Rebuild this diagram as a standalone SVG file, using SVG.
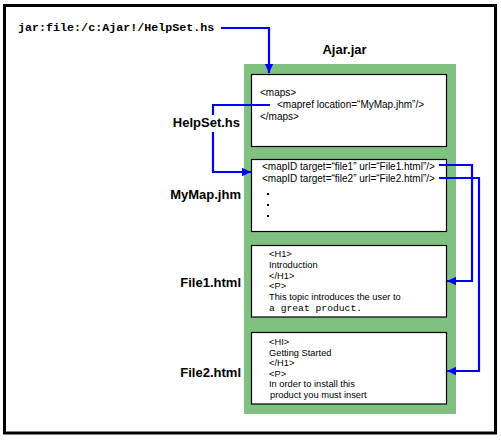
<svg xmlns="http://www.w3.org/2000/svg" width="501" height="440" viewBox="0 0 501 440">
<style>
.box{fill:#fff;stroke:#000;stroke-width:1.2}
.lbl{font-family:"Liberation Sans",Arial,sans-serif;font-weight:bold;font-size:13px;fill:#000}
.code{font-family:"Liberation Sans",Arial,sans-serif;font-size:10px;fill:#000}
.html{font-family:"Liberation Sans",Arial,sans-serif;font-size:9.3px;fill:#000}
.mono{font-family:"Liberation Mono","Courier New",monospace;font-size:9.7px;fill:#000}
.conn{fill:none;stroke:#0000ff;stroke-width:2.2}
</style>
<defs>
<marker id="ah" markerUnits="userSpaceOnUse" markerWidth="9" markerHeight="9" viewBox="0 0 8 8" refX="8" refY="4" orient="auto">
<path d="M0,0.3 L8,4 L0,7.7 z" fill="#0000ff"/>
</marker>
</defs>
<rect x="4.5" y="5.5" width="491" height="427.5" fill="#fff" stroke="#000" stroke-width="3"/>
<g id="url">
<text x="18" y="31" font-family="Liberation Mono,'Courier New',monospace" font-weight="bold" font-size="11.7px">jar:file:/c:Ajar!/HelpSet.hs</text>
</g>
<g id="ajar">
<rect x="244" y="64" width="212" height="350" fill="#80c080"/>
<text class="lbl" x="344.5" y="54" text-anchor="middle">Ajar.jar</text>
</g>
<g id="helpset">
<rect class="box" x="251.5" y="74.5" width="195" height="72"/>
<text class="code" x="260" y="96">&lt;maps&gt;</text>
<text class="code" x="277" y="108">&lt;mapref location=“MyMap.jhm”/&gt;</text>
<text class="code" x="260" y="120">&lt;/maps&gt;</text>
<text class="lbl" x="240" y="127" text-anchor="end">HelpSet.hs</text>
</g>
<g id="mymap">
<rect class="box" x="251.5" y="159.5" width="195" height="72"/>
<text class="code" x="262" y="170">&lt;mapID target=“file1” url=“File1.html”/&gt;</text>
<text class="code" x="262" y="182">&lt;mapID target=“file2” url=“File2.html”/&gt;</text>
<rect x="267" y="193" width="2" height="2"/>
<rect x="267" y="204" width="2" height="2"/>
<rect x="267" y="215" width="2" height="2"/>
<text class="lbl" x="241" y="199" text-anchor="end">MyMap.jhm</text>
</g>
<g id="file1">
<rect class="box" x="251.5" y="245.5" width="195" height="71.5"/>
<text class="html" x="269" y="257">&lt;H1&gt;</text>
<text class="html" x="269" y="268">Introduction</text>
<text class="html" x="269" y="279">&lt;/H1&gt;</text>
<text class="html" x="269" y="289">&lt;P&gt;</text>
<text class="html" x="269" y="300">This topic introduces the user to</text>
<text class="mono" x="269" y="311">a great product.</text>
<text class="lbl" x="241" y="287" text-anchor="end">File1.html</text>
</g>
<g id="file2">
<rect class="box" x="251.5" y="332.5" width="195" height="71.5"/>
<text class="html" x="269" y="345">&lt;HI&gt;</text>
<text class="html" x="269" y="356">Getting Started</text>
<text class="html" x="269" y="366">&lt;/H1&gt;</text>
<text class="html" x="269" y="377">&lt;P&gt;</text>
<text class="html" x="269" y="387">In order to install this</text>
<text class="html" x="270" y="398">product you must insert</text>
<text class="lbl" x="241" y="377" text-anchor="end">File2.html</text>
</g>
<g id="connectors">
<path class="conn" d="M221,28 H269 V73" marker-end="url(#ah)"/>
<path class="conn" d="M270,105 H213 V115 M213,132 V172 H251" marker-end="url(#ah)"/>
<path class="conn" d="M439,165 H472 V281 H447" marker-end="url(#ah)"/>
<path class="conn" d="M439,178 H479 V371 H447" marker-end="url(#ah)"/>
</g>
</svg>
